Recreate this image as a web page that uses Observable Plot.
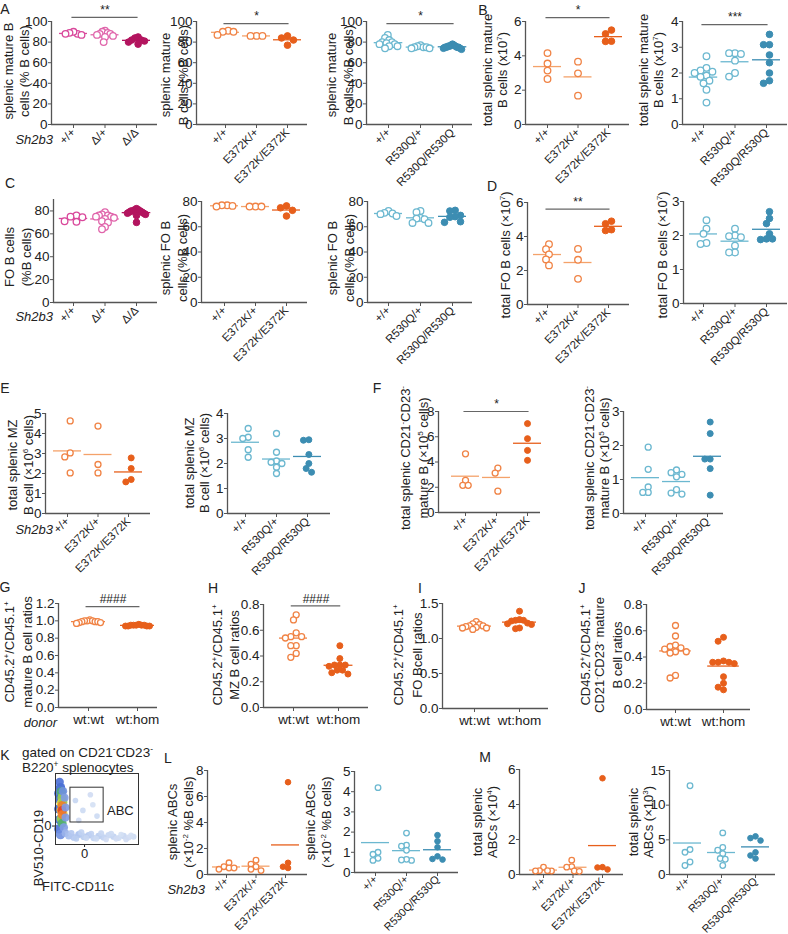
<!DOCTYPE html>
<html><head><meta charset="utf-8">
<script src="https://cdn.jsdelivr.net/npm/d3@7"></script>
<script src="https://cdn.jsdelivr.net/npm/@observablehq/plot@0.6"></script>
<style>
body{margin:0;background:#fff;}
#fig{position:relative;width:788px;height:934px;overflow:hidden;background:#fff;font-family:"Liberation Sans",Arial,Helvetica,sans-serif;color:#222;}
.yl{position:absolute;white-space:nowrap;font-size:13px;line-height:1;transform:translate(-50%,-50%) rotate(-90deg);}
.lt{position:absolute;font-size:14px;line-height:1;transform:translate(-50%,-50%);}
.it{position:absolute;font-size:13px;font-style:italic;line-height:1;white-space:nowrap;transform:translate(-100%,-50%);}
.tx{position:absolute;font-size:13px;line-height:1;white-space:nowrap;}
sup{font-size:0.62em;vertical-align:0.55em;line-height:0;}
</style></head><body><div id="fig"></div>
<script>
// ---------------- data ----------------
const catsD = ["+/+", "\u0394/+", "\u0394/\u0394"];
const catsE = ["+/+", "E372K/+", "E372K/E372K"];
const catsR = ["+/+", "R530Q/+", "R530Q/R530Q"];
const catsW = ["wt:wt", "wt:hom"];

const a1_wt = [88, 90, 89, 88, 87];
const a1_het = [91, 90, 89, 88, 88, 87, 86, 85, 80];
const a1_hom = [85, 84, 82, 82, 81, 80, 78];
const a2_wt = [91, 90, 90, 87];
const a2_het = [86, 86, 86];
const a2_hom = [86, 84, 82, 77];
const a3_wt = [87, 84, 82, 80, 80, 79, 78, 78, 76, 76, 74];
const a3_het = [77, 76, 75, 75, 75, 74, 74];
const a3_hom = [78, 77, 77, 76, 76, 76, 75, 75, 75, 75, 74, 74, 73];
const b1_wt = [4.16, 3.55, 3.14, 2.65];
const b1_het = [3.66, 2.98, 1.68];
const b1_hom = [5.5, 5.28, 4.85, 4.84];
const b2_wt = [2.65, 2.2, 2.1, 2.05, 2.0, 1.9, 1.85, 1.7, 1.6, 1.35, 0.85];
const b2_het = [2.77, 2.74, 2.77, 2.48, 2.0, 1.86];
const b2_hom = [3.5, 3.1, 3.1, 2.7, 2.4, 2.0, 1.7, 1.6];
const c1_wt = [76, 75, 74.5, 71, 70.5];
const c1_het = [79, 77, 76, 76, 75, 75, 74, 73, 71, 70, 66, 64];
const c1_hom = [82, 81, 81, 80, 80, 80, 79, 79, 78, 78, 77, 76, 70];
const c2_wt = [77, 77, 76.5, 76];
const c2_het = [76, 76, 76];
const c2_hom = [76.5, 75, 73, 68.5];
const c3_wt = [72.5, 71, 70.5, 70, 68.5];
const c3_het = [72.5, 71.5, 67, 66.5, 66, 63, 63];
const c3_hom = [73, 72.5, 69, 68, 67.5, 64, 63.5];
const d1_wt = [3.55, 3.25, 2.95, 2.65, 2.3];
const d1_het = [3.27, 2.63, 1.51];
const d1_hom = [4.9, 4.75, 4.4, 4.35];
const d2_wt = [2.45, 2.2, 2.05, 1.78, 1.75];
const d2_het = [2.2, 2.0, 1.98, 1.95, 1.7, 1.5, 1.5];
const d2_hom = [2.7, 2.5, 2.35, 2.05, 1.9, 1.88, 1.9];
const e1_wt = [4.63, 3.03, 2.83, 2.03];
const e1_het = [4.37, 2.45, 2.03];
const e1_hom = [2.78, 2.25, 1.7, 1.58];
const e2_wt = [3.4, 3.05, 3.0, 2.55, 2.25];
const e2_het = [3.2, 2.45, 2.1, 2.05, 2.0, 1.85, 1.6];
const e2_hom = [2.95, 2.93, 2.36, 2.0, 1.8, 1.65];
const f1_wt = [4.65, 2.55, 2.15, 2.15];
const f1_het = [3.52, 3.12, 1.69];
const f1_hom = [7.04, 5.85, 4.92, 4.13];
const f2_wt = [1.95, 1.3, 0.78, 0.62, 0.62];
const f2_het = [1.28, 1.2, 1.15, 1.08, 0.7, 0.6, 0.57];
const f2_hom = [2.69, 2.35, 1.6, 1.6, 1.32, 0.54];
const g_wt = [1.01, 1.0, 1.0, 1.0, 0.99, 0.99, 0.99, 0.98, 0.98, 0.97];
const g_hom = [0.96, 0.95, 0.95, 0.95, 0.95, 0.95, 0.94, 0.94, 0.94, 0.94];
const h_wt = [0.72, 0.68, 0.58, 0.55, 0.54, 0.55, 0.48, 0.48, 0.42, 0.39];
const h_hom = [0.48, 0.38, 0.33, 0.33, 0.32, 0.33, 0.29, 0.29, 0.26, 0.27];
const i_wt = [1.24, 1.21, 1.2, 1.18, 1.18, 1.17, 1.16, 1.15, 1.15, 1.13];
const i_hom = [1.39, 1.27, 1.26, 1.26, 1.25, 1.22, 1.21, 1.2, 1.15, 1.14];
const j_wt = [0.64, 0.56, 0.48, 0.49, 0.47, 0.46, 0.44, 0.43, 0.44, 0.26, 0.24];
const j_hom = [0.55, 0.52, 0.36, 0.36, 0.36, 0.37, 0.35, 0.25, 0.2, 0.17, 0.15];
const l1_wt = [0.9, 0.6, 0.5, 0.5, 0.4];
const l1_het = [1.1, 0.8, 0.6, 0.4, 0.3];
const l1_hom = [7.1, 0.9, 0.6, 0.5];
const l2_wt = [4.2, 1.0, 0.9, 0.7, 0.6];
const l2_het = [1.95, 1.35, 1.3, 1.1, 0.6, 0.65, 0.62];
const l2_hom = [1.85, 1.55, 1.25, 0.8, 0.67, 0.64];
const m1_wt = [0.42, 0.22, 0.2, 0.2, 0.22];
const m1_het = [0.82, 0.45, 0.42, 0.2, 0.18];
const m1_hom = [5.5, 0.42, 0.4, 0.29];
const m2_wt = [12.8, 3.6, 3.2, 1.8, 1.3];
const m2_het = [6.0, 3.9, 3.5, 3.0, 2.3, 2.2, 1.3];
const m2_hom = [5.5, 5.25, 4.9, 3.2, 2.75, 2.3];

// flow cytometry density (K), positions in % of the plot frame
const flowX = [5, 6, 4, 9, 5, 11, 4, 12, 5, 12, 4, 10, 6, 12, 7, 8, 7, 9, 7, 9, 7, 8, 8, 8, 8,
  16, 22, 28, 34, 40, 46, 52, 58, 64, 70, 76, 82, 88, 94, 19, 25, 31, 37, 43, 49, 55, 61, 67, 73, 79, 85, 91, 24, 33, 42, 50, 28, 45];
const flowY = [88, 80, 72, 75, 64, 66, 50, 52, 35, 38, 22, 24, 14, 16, 74, 66, 58, 60, 48, 44, 36, 30, 55, 48, 42,
  12, 10, 14, 11, 13, 9, 12, 10, 13, 11, 9, 12, 10, 11, 16, 8, 17, 9, 15, 8, 16, 7, 15, 8, 14, 7, 13, 62, 48, 70, 40, 34, 56];
const flowC = ["#4a6fd6", "#3e66d0", "#4a6fd6", "#6f8fe0", "#3e66d0", "#7f9be4", "#3e66d0", "#7f9be4", "#3e66d0", "#7f9be4", "#4a6fd6", "#7f9be4", "#6f8fe0", "#9ab2ea",
  "#4fae70", "#9bcf4a", "#e8d43a", "#9bcf4a", "#f2b12e", "#e8d43a", "#9bcf4a", "#4fae70", "#ef7d2a", "#e0402a", "#ef7d2a",
  "#a9c0ee", "#b3c7ef", "#a9c0ee", "#b8ccf0", "#b3c7ef", "#c0d2f2", "#b8ccf0", "#c0d2f2", "#c6d6f2", "#c0d2f2", "#ccdaf3", "#c6d6f2", "#d0dcf3", "#ccdaf3",
  "#b3c7ef", "#b8ccf0", "#c0d2f2", "#c6d6f2", "#c0d2f2", "#ccdaf3", "#c6d6f2", "#d0dcf3", "#ccdaf3", "#d0dcf3", "#d4e0f4", "#d0dcf3", "#d4e0f4",
  "#c6d6f2", "#ccdaf3", "#d0dcf3", "#ccdaf3", "#d0dcf3", "#d4e0f4"];
const flowR = [1.6, 2, 2, 1.6, 2, 1.4, 2, 1.4, 2, 1.4, 2, 1.6, 2, 1.3, 2, 2, 2, 1.8, 2, 1.8, 2, 1.8, 1.8, 1.8, 1.8,
  1.1, 1, 1.1, 1, 1, 0.9, 1, 0.9, 0.9, 0.9, 0.8, 0.9, 0.8, 0.8, 0.9, 0.8, 0.9, 0.8, 0.8, 0.8, 0.8, 0.7, 0.8, 0.7, 0.7, 0.7, 0.7, 0.7, 0.7, 0.7, 0.7, 0.7, 0.7];

// ---------------- style ----------------
const FONT = '"Liberation Sans", Arial, Helvetica, sans-serif';
const AX = "#555";
const C = {
  pinkO: "#d9489b", pinkO2: "#e065ab", magF: "#b3145f",
  orO: "#f08345", orL: "#f4a26a", orF: "#e75f1b",
  blO: "#6cb8d0", blF: "#3c8db2"
};
const fig = document.getElementById("fig");

function beeswarm(vals, pxY, d) {
  const order = vals.map((v, i) => [v, i]).sort((a, b) => b[0] - a[0]);
  const placed = [], out = new Array(vals.length);
  for (const [v, i] of order) {
    const py = v * pxY;
    let off = 0;
    for (let k = 0; k < 80; k++) {
      const c = k === 0 ? 0 : (k % 2 ? -1 : 1) * Math.ceil(k / 2) * d / 2;
      if (placed.every(p => (p.x - c) ** 2 + (p.y - py) ** 2 >= d * d * 0.98)) { off = c; break; }
    }
    placed.push({x: off, y: py});
    out[i] = off;
  }
  return out;
}

function panel(L, S) {
  const n = S.cats.length;
  const step = (L.c1 - L.c0) / (n - 1);
  const xdom = [-(L.c0 - L.fx0) / step, (n - 1) + (L.fx1 - L.c1) / step];
  const mL = 38, mT = 28, mR = 4, mB = Math.min(S.flat ? 26 : 92, 932 - L.fy1);
  const W = L.fx1 - L.fx0 + mL + mR, H = L.fy1 - L.fy0 + mT + mB;
  const pxY = (L.fy1 - L.fy0) / (S.ydom[1] - S.ydom[0]);
  const r = S.r || 3.3, d = 2 * r * (S.pack || 0.9);
  const spreadMax = S.spread || 8;
  const marks = [
    Plot.ruleY([S.ydom[0]], {stroke: AX, strokeWidth: 1.3}),
    Plot.ruleX([xdom[0]], {stroke: AX, strokeWidth: 1.3})
  ];
  const dots = [];
  S.groups.forEach((g, i) => {
    let offs = beeswarm(g.vals, pxY, d);
    const lo = Math.min(...offs), hi = Math.max(...offs), sh = (lo + hi) / 2;
    let half = (hi - lo) / 2;
    const k = half > spreadMax ? spreadMax / half : 1;
    offs = offs.map(o => (o - sh) * k);
    half *= k;
    const pts = g.vals.map((v, j) => ({x: i + offs[j] / step, y: v}));
    const hw = Math.max(S.hw || 14, half + r + 2);
    const m = [{x1: i - hw / step, x2: i + hw / step, y: d3.mean(g.vals)}];
    if (!S.noMean) marks.push(Plot.ruleY(m, {x1: "x1", x2: "x2", y: "y", stroke: g.lc || g.c, strokeWidth: 1.3}));
    dots.push(Plot.dot(pts, {x: "x", y: "y", r, stroke: g.c, fill: g.open ? "white" : g.c, strokeWidth: g.open ? 1.3 : 1}));
  });
  marks.push(...dots);
  if (S.sig) {
    const s = S.sig;
    marks.push(Plot.ruleY([s], {x1: d => d.a - 0.05, x2: d => d.b + 0.05, y: "y", stroke: "#666", strokeWidth: 1.2}));
    marks.push(Plot.text([s], {x: d => (d.a + d.b) / 2, y: "y", text: "t", dy: -7, fontSize: 12, fill: "#222"}));
  }
  const svg = Plot.plot({
    width: W, height: H, marginLeft: mL, marginRight: mR, marginTop: mT, marginBottom: mB,
    style: {fontFamily: FONT, fontSize: "13.5px", color: "#222", background: "transparent", overflow: "visible"},
    x: {domain: xdom, ticks: d3.range(n), tickFormat: i => S.cats[i], tickRotate: S.flat ? 0 : -45, tickSize: 4, tickPadding: S.flat ? 3 : (S.xpad ?? 2), label: null},
    y: {domain: S.ydom, ticks: S.yticks, tickFormat: S.yfmt || (v => String(v)), tickSize: 3, tickPadding: 1, label: null},
    marks
  });
  const sel = d3.select(svg);
  sel.selectAll('g[aria-label="x-axis tick label"]').attr("font-size", S.flat ? 13.5 : (S.xfs || 11.5));
  sel.selectAll('g[aria-label="x-axis tick"], g[aria-label="y-axis tick"]').attr("stroke", AX);
  svg.style.position = "absolute";
  svg.style.left = (L.fx0 - mL) + "px";
  svg.style.top = (L.fy0 - mT) + "px";
  fig.appendChild(svg);
}

function ylab(xs, yc, lines, size) {
  lines.forEach((t, k) => {
    const el = document.createElement("div");
    el.className = "yl";
    el.innerHTML = t;
    if (size) el.style.fontSize = size + "px";
    el.style.left = xs[k] + "px";
    el.style.top = yc + "px";
    fig.appendChild(el);
  });
}
function letter(t, x, y) {
  const el = document.createElement("div");
  el.className = "lt"; el.textContent = t;
  el.style.left = x + "px"; el.style.top = y + "px";
  fig.appendChild(el);
}
function ital(t, x, y) {
  const el = document.createElement("div");
  el.className = "it"; el.textContent = t;
  el.style.left = x + "px"; el.style.top = y + "px";
  fig.appendChild(el);
}
function txt(html, x, y, size) {
  const el = document.createElement("div");
  el.className = "tx"; el.innerHTML = html;
  el.style.left = x + "px"; el.style.top = y + "px";
  if (size) el.style.fontSize = size + "px";
  fig.appendChild(el);
}

const G3 = (a, b, c, col) => [
  {vals: a, open: true, c: col[0], lc: col[3] || col[0]},
  {vals: b, open: true, c: col[1], lc: col[3] || col[1]},
  {vals: c, open: false, c: col[2]}
];
const PINK = [C.pinkO, C.pinkO2, C.magF];
const ORNG = [C.orO, C.orO, C.orF, C.orL];
const BLUE = [C.blO, C.blO, C.blF];
const t100 = [0, 20, 40, 60, 80, 100], t80 = [0, 20, 40, 60, 80];
const f1 = d3.format(".1f");

// Row A / B
panel({fx0: 51, fx1: 157, fy0: 21, fy1: 124, c0: 73, c1: 136},
  {cats: catsD, ydom: [0, 100], yticks: t100, groups: G3(a1_wt, a1_het, a1_hom, PINK), sig: {a: 0, b: 2, y: 104, t: "**"}});
panel({fx0: 196, fx1: 307, fy0: 21, fy1: 124, c0: 225, c1: 287},
  {cats: catsE, ydom: [0, 100], yticks: t100, groups: G3(a2_wt, a2_het, a2_hom, ORNG), sig: {a: 0, b: 2, y: 98, t: "*"}});
panel({fx0: 366, fx1: 472, fy0: 21, fy1: 124, c0: 388, c1: 452},
  {cats: catsR, ydom: [0, 100], yticks: t100, groups: G3(a3_wt, a3_het, a3_hom, BLUE), spread: 9, sig: {a: 0, b: 2, y: 98, t: "*"}});
panel({fx0: 525, fx1: 629, fy0: 21, fy1: 124, c0: 547, c1: 608},
  {cats: catsE, ydom: [0, 6], yticks: [0, 2, 4, 6], groups: G3(b1_wt, b1_het, b1_hom, ORNG), sig: {a: 0, b: 2, y: 6.23, t: "*"}});
panel({fx0: 682, fx1: 787, fy0: 21, fy1: 124, c0: 703, c1: 766},
  {cats: catsR, ydom: [0, 4], yticks: [0, 1, 2, 3, 4], groups: G3(b2_wt, b2_het, b2_hom, BLUE), spread: 10, sig: {a: 0, b: 2, y: 3.88, t: "***"}});
// Row C / D
panel({fx0: 53, fx1: 157, fy0: 199, fy1: 302, c0: 73, c1: 136},
  {cats: catsD, ydom: [0, 90], yticks: t80, groups: G3(c1_wt, c1_het, c1_hom, PINK), spread: 9});
panel({fx0: 201, fx1: 307, fy0: 201, fy1: 302, c0: 224, c1: 286},
  {cats: catsE, ydom: [0, 80], yticks: t80, groups: G3(c2_wt, c2_het, c2_hom, ORNG)});
panel({fx0: 367, fx1: 472, fy0: 201, fy1: 302, c0: 388, c1: 452},
  {cats: catsR, ydom: [0, 80], yticks: t80, groups: G3(c3_wt, c3_het, c3_hom, BLUE)});
panel({fx0: 527, fx1: 629, fy0: 202, fy1: 304, c0: 547, c1: 608},
  {cats: catsE, ydom: [0, 6], yticks: [0, 2, 4, 6], groups: G3(d1_wt, d1_het, d1_hom, ORNG), sig: {a: 0, b: 2, y: 5.61, t: "**"}});
panel({fx0: 683, fx1: 787, fy0: 201, fy1: 303, c0: 703, c1: 766},
  {cats: catsR, ydom: [0, 3], yticks: [0, 1, 2, 3], groups: G3(d2_wt, d2_het, d2_hom, BLUE)});
// Row E / F
panel({fx0: 45, fx1: 150, fy0: 413, fy1: 513, c0: 67, c1: 128},
  {cats: catsE, ydom: [0, 5], yticks: [0, 1, 2, 3, 4, 5], groups: G3(e1_wt, e1_het, e1_hom, ORNG), r: 3});
panel({fx0: 227, fx1: 330, fy0: 413, fy1: 513, c0: 245, c1: 307},
  {cats: catsR, ydom: [0, 4], yticks: [0, 1, 2, 3, 4], groups: G3(e2_wt, e2_het, e2_hom, BLUE), r: 3});
panel({fx0: 438, fx1: 540, fy0: 411, fy1: 512, c0: 465, c1: 527},
  {cats: catsE, ydom: [0, 8], yticks: [0, 2, 4, 6, 8], groups: G3(f1_wt, f1_het, f1_hom, ORNG), r: 3, sig: {a: 0, b: 2, y: 8, t: "*"}});
panel({fx0: 623, fx1: 723, fy0: 411, fy1: 513, c0: 645, c1: 707},
  {cats: catsR, ydom: [0, 3], yticks: [0, 1, 2, 3], groups: G3(f2_wt, f2_het, f2_hom, BLUE), r: 3});
// Row G-J
const GW = (a, b) => [{vals: a, open: true, c: C.orO}, {vals: b, open: false, c: C.orF}];
panel({fx0: 58, fx1: 157, fy0: 603, fy1: 707, c0: 88, c1: 137},
  {cats: catsW, flat: true, ydom: [0, 1.2], yticks: [0, 0.2, 0.4, 0.6, 0.8, 1.0, 1.2], yfmt: f1, groups: GW(g_wt, g_hom), r: 3, spread: 12, sig: {a: 0, b: 1, y: 1.165, t: "####"}});
panel({fx0: 263, fx1: 368, fy0: 604, fy1: 707, c0: 293, c1: 338},
  {cats: catsW, flat: true, ydom: [0, 0.8], yticks: [0, 0.2, 0.4, 0.6, 0.8], yfmt: f1, groups: GW(h_wt, h_hom), r: 3, spread: 12, sig: {a: 0, b: 1, y: 0.79, t: "####"}});
panel({fx0: 442, fx1: 548, fy0: 603, fy1: 708, c0: 474, c1: 519},
  {cats: catsW, flat: true, ydom: [0, 1.5], yticks: [0, 0.5, 1.0, 1.5], yfmt: f1, groups: GW(i_wt, i_hom), r: 3, spread: 12});
panel({fx0: 646, fx1: 750, fy0: 604, fy1: 709, c0: 675, c1: 723},
  {cats: catsW, flat: true, ydom: [0, 0.8], yticks: [0, 0.2, 0.4, 0.6, 0.8], yfmt: f1, groups: GW(j_wt, j_hom), r: 3, spread: 11});
// Row L / M
const R5 = {r: 2.8, xfs: 11, xpad: 1};
panel({fx0: 207, fx1: 307, fy0: 770, fy1: 874, c0: 226, c1: 285},
  {cats: catsE, ydom: [0, 8], yticks: [0, 2, 4, 6, 8], groups: G3(l1_wt, l1_het, l1_hom, ORNG), ...R5});
panel({fx0: 354, fx1: 458, fy0: 771, fy1: 872, c0: 375, c1: 437},
  {cats: catsR, ydom: [0, 5], yticks: [0, 1, 2, 3, 4, 5], groups: G3(l2_wt, l2_het, l2_hom, BLUE), ...R5});
panel({fx0: 519, fx1: 623, fy0: 769, fy1: 874, c0: 543, c1: 602},
  {cats: catsE, ydom: [0, 6], yticks: [0, 2, 4, 6], groups: G3(m1_wt, m1_het, m1_hom, ORNG), ...R5});
panel({fx0: 669, fx1: 775, fy0: 770, fy1: 874, c0: 687, c1: 755},
  {cats: catsR, ydom: [0, 15], yticks: [0, 5, 10, 15], groups: G3(m2_wt, m2_het, m2_hom, BLUE), ...R5});

// K flow plot
(function () {
  const flow = flowX.map((x, i) => ({x, y: flowY[i], c: flowC[i], r: flowR[i]}));
  const mL = 12, mB = 14, W = 82, H = 70;
  const svg = Plot.plot({
    width: W + mL + 2, height: H + mB + 2, marginLeft: mL, marginBottom: mB, marginTop: 1, marginRight: 1,
    style: {fontFamily: FONT, fontSize: "13px", color: "#222", background: "transparent", overflow: "visible"},
    x: {domain: [0, 100], ticks: [35], tickFormat: () => "0", tickSize: 3, tickPadding: 1, label: null},
    y: {domain: [0, 100], ticks: [26], tickFormat: () => "0", tickSize: 3, tickPadding: 1, label: null},
    marks: [
      Plot.dot(flow, {x: "x", y: "y", r: "r", fill: "c", stroke: null, fillOpacity: 0.9}),
      Plot.rect([{x1: 18, x2: 58, y1: 31, y2: 80}], {x1: "x1", x2: "x2", y1: "y1", y2: "y2", fill: "none", stroke: "#333", strokeWidth: 1}),
      Plot.text(["ABC"], {x: 62, y: 48, text: d => d, textAnchor: "start", fontSize: 13}),
      Plot.frame({stroke: "#333", strokeWidth: 1})
    ]
  });
  svg.style.position = "absolute";
  svg.style.left = (55 - mL) + "px";
  svg.style.top = (773 - 1) + "px";
  fig.appendChild(svg);
})();

// y labels
ylab([8, 24], 71, ["splenic mature B", "cells (% B cells)"]);
ylab([165, 183], 75, ["splenic mature", "B cells (%B cells)"]);
ylab([331, 348], 75, ["splenic mature", "B cells (%B cells)"]);
ylab([487, 502], 70, ["total splenic mature", "B cells (x10<sup>7</sup>)"]);
ylab([643, 658], 70, ["total splenic mature", "B cells (x10<sup>7</sup>)"]);
ylab([9, 26], 257, ["FO B cells", "(%B cells)"]);
ylab([165, 182], 258, ["splenic FO B", "cells (%B cells)"]);
ylab([332, 349], 258, ["splenic FO B", "cells (%B cells)"]);
ylab([505], 255, ["total FO B cells (\u00d710<sup>7</sup>)"]);
ylab([662], 255, ["total FO B cells (\u00d710<sup>7</sup>)"]);
ylab([12, 28], 465, ["total splenic MZ", "B cell (\u00d710<sup>6</sup> cells)"]);
ylab([189, 204], 463, ["total splenic MZ", "B cell (\u00d710<sup>6</sup> cells)"]);
ylab([405, 423], 458, ["total splenic CD21<sup>-</sup>CD23<sup>-</sup>", "mature B (\u00d710<sup>5</sup> cells)"]);
ylab([589, 604], 458, ["total splenic CD21<sup>-</sup>CD23<sup>-</sup>", "mature B (\u00d710<sup>5</sup> cells)"]);
ylab([9, 27], 652, ["CD45.2<sup>+</sup>/CD45.1<sup>+</sup>", "mature B cell ratios"]);
ylab([217, 234], 655, ["CD45.2<sup>+</sup>/CD45.1<sup>+</sup>", "MZ B cell ratios"]);
ylab([398, 417], 655, ["CD45.2<sup>+</sup>/CD45.1<sup>+</sup>", "FO Bcell ratios"]);
ylab([585, 599, 617], 655, ["CD45.2<sup>+</sup>/CD45.1<sup>+</sup>", "CD21<sup>-</sup>CD23<sup>-</sup> mature", "B cell ratios"]);
ylab([172, 188], 822, ["splenic ABCs", "(\u00d710<sup>-2</sup> %B cells)"]);
ylab([310, 326], 822, ["splenic ABCs", "(\u00d710<sup>-2</sup> %B cells)"]);
ylab([477, 492], 822, ["total splenic", "ABCs (\u00d710<sup>4</sup>)"]);
ylab([633, 648], 822, ["total splenic", "ABCs (\u00d710<sup>3</sup>)"]);
ylab([38], 848, ["BV510-CD19"]);
txt("FITC-CD11c", 42, 880);
txt("gated on CD21<sup>-</sup>CD23<sup>-</sup>", 22, 746, 13.5);
txt("B220<sup>+</sup> splenocytes", 22, 761, 13.5);

// italic row labels
ital("Sh2b3", 53, 139);
ital("Sh2b3", 53, 316);
ital("Sh2b3", 53, 529);
ital("Sh2b3", 205, 889);
ital("donor", 57, 722);

// panel letters
[["A", 5, 9], ["B", 483, 10], ["C", 10, 183], ["D", 492, 186], ["E", 5, 388], ["F", 377, 388],
 ["G", 5, 587], ["H", 213, 588], ["I", 420, 588], ["J", 582, 588], ["K", 5, 755], ["L", 168, 758], ["M", 485, 757]]
  .forEach(([t, x, y]) => letter(t, x, y));
</script></body></html>
